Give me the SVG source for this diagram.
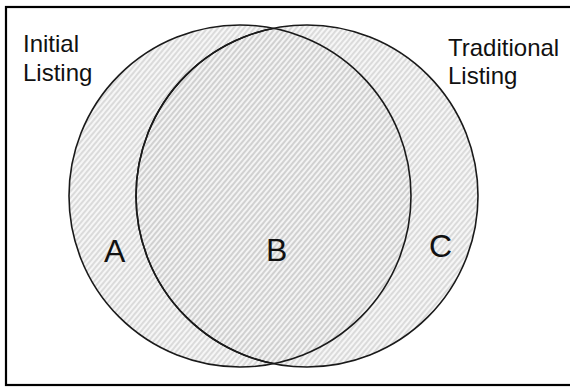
<svg xmlns="http://www.w3.org/2000/svg" width="570" height="387" viewBox="0 0 570 387">
<defs>
<pattern id="hatch" patternUnits="userSpaceOnUse" width="4" height="4" patternTransform="rotate(40)">
<rect width="4" height="4" fill="#f3f3f3"/>
<line x1="1" y1="0" x2="1" y2="4" stroke="#b8b8b8" stroke-width="1.3"/>
</pattern>
<clipPath id="inLeft"><circle cx="240" cy="196" r="170"/></clipPath>
</defs>
<style>
.lbl{font-family:"Liberation Sans",Arial,sans-serif;fill:#111;}
.t{font-size:24px;}
.big{font-size:32px;}
.ring{stroke:#1a1a1a;stroke-width:1.6;fill:none;}
.area{fill:url(#hatch);fill-opacity:0.72;}
</style>
<rect x="6" y="7" width="570" height="378" fill="#fff" stroke="#000" stroke-width="2.2"/>
<g id="fills">
<circle class="area" cx="307" cy="196" r="171"/>
<circle class="area" cx="240" cy="196" r="171"/>
</g>
<g id="traditional-listing">
<circle class="ring" cx="307" cy="196" r="171"/>
<circle class="ring" cx="307" cy="196" r="171" stroke="#5c5c5c" stroke-width="1.8" clip-path="url(#inLeft)"/>
<text class="lbl t" x="448" y="56">Traditional</text>
<text class="lbl t" x="448" y="84">Listing</text>
</g>
<g id="initial-listing">
<circle class="ring" cx="240" cy="196" r="171"/>
<text class="lbl t" x="23" y="52">Initial</text>
<text class="lbl t" x="23" y="81">Listing</text>
</g>
<g id="region-a"><text class="lbl big" x="104" y="262">A</text></g>
<g id="region-b"><text class="lbl big" x="266" y="261">B</text></g>
<g id="region-c"><text class="lbl big" x="429" y="257">C</text></g>
</svg>
